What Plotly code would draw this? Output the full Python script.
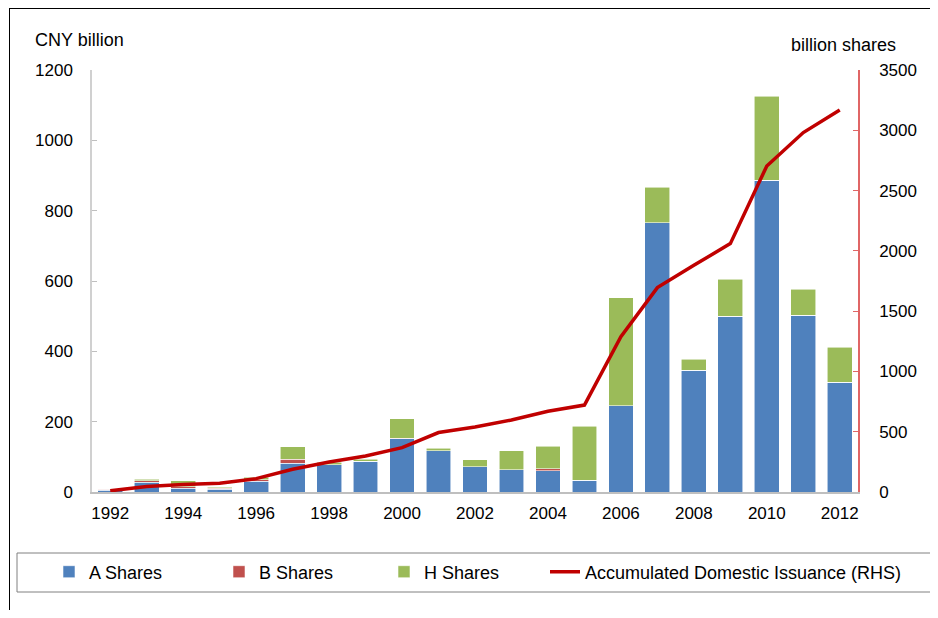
import plotly.graph_objects as go

years = list(range(1992, 2013))
a_shares = [5, 28, 11, 8, 30, 82, 78, 88, 151, 117, 72, 63, 61, 34, 245, 766, 346, 500, 886, 502, 312]
b_shares = [3, 4, 4, 3, 5, 11, 0, 0, 2, 0, 0, 0, 5, 0, 0, 0, 0, 0, 0, 0, 0]
h_shares = [0, 4, 17, 3, 7, 35, 6, 5, 56, 7, 20, 55, 64, 153, 308, 101, 31, 105, 239, 74, 100]
accum_issuance = [10, 45, 62, 72, 111, 188, 249, 298, 368, 493, 539, 597, 669, 721,
                  1289, 1695, 1880, 2060, 2704, 2981, 3168]
tick_years = list(range(1992, 2013, 2))

FONT = "Liberation Sans, Arial, sans-serif"
OFF = 8  # page body margin
W, H = 938 - 2 * OFF, 618 - 2 * OFF
L = 92 - OFF
T = 70 - OFF
R = W - (858 - OFF)
B = H - (492 - OFF)
pw, ph = W - L - R, H - T - B

def px(x):
    return (x - OFF - L) / pw

def py(y):
    return (H - B - (y - OFF)) / ph

fig = go.Figure()
edge = dict(color="rgba(255,255,255,0.7)", width=0.8)
fig.add_trace(go.Bar(x=years, y=a_shares, name="A Shares", legendwidth=125,
                     marker=dict(color="#4F81BD", line=edge)))
fig.add_trace(go.Bar(x=years, y=b_shares, name="B Shares", legendwidth=120,
                     marker=dict(color="#C0504D", line=edge)))
fig.add_trace(go.Bar(x=years, y=h_shares, name="H Shares", legendwidth=100,
                     marker=dict(color="#9BBB59", line=edge)))
fig.add_trace(go.Scatter(x=years, y=accum_issuance, name="Accumulated Domestic Issuance (RHS)",
                         mode="lines", yaxis="y2", legend="legend2",
                         line=dict(color="#C00000", width=3.5)))

fig.update_layout(
    width=W, height=H,
    margin=dict(l=L, r=R, t=T, b=B, autoexpand=False),
    paper_bgcolor="white", plot_bgcolor="white",
    barmode="stack", bargap=0.32,
    font=dict(family=FONT, size=17, color="#000000"),
    xaxis=dict(range=[1991.5, 2012.5], tickvals=tick_years, ticktext=[str(y) for y in tick_years],
               showline=True, linecolor="#BFBFBF", linewidth=1.5, ticks="", showgrid=False,
               zeroline=False, tickfont=dict(size=17), ticklabelstandoff=5),
    yaxis=dict(range=[0, 1200], dtick=200, showline=True, linecolor="#D0D0D0", linewidth=1.5,
               ticks="inside", ticklen=5, tickcolor="#BFBFBF", showgrid=False, zeroline=False,
               tickfont=dict(size=17), ticklabelstandoff=14),
    yaxis2=dict(range=[0, 3500], dtick=500, overlaying="y", side="right", showline=True,
                linecolor="#E06666", linewidth=1.5, ticks="inside", ticklen=5, tickcolor="#E06666",
                showgrid=False, zeroline=False, tickfont=dict(size=17), ticklabelstandoff=16),
    showlegend=True,
    legend=dict(orientation="h", x=px(49), xanchor="left", y=py(572), yanchor="middle",
                entrywidthmode="pixels", font=dict(size=18),
                bgcolor="rgba(0,0,0,0)", traceorder="normal"),
    legend2=dict(orientation="h", x=px(545), xanchor="left", y=py(572), yanchor="middle",
                 font=dict(size=18), bgcolor="rgba(0,0,0,0)"),
    shapes=[
        dict(type="rect", xref="paper", yref="paper", x0=px(17), x1=px(960), y0=py(553), y1=py(592),
             line=dict(color="#808080", width=1), fillcolor="rgba(0,0,0,0)", layer="below"),
        dict(type="line", xref="paper", yref="paper", x0=px(9), x1=px(960), y0=py(8.5), y1=py(8.5),
             line=dict(color="#000000", width=1)),
        dict(type="line", xref="paper", yref="paper", x0=px(9.5), x1=px(9.5), y0=py(8), y1=py(640),
             line=dict(color="#000000", width=1)),
    ],
    annotations=[
        dict(text="CNY billion", xref="paper", yref="paper", x=px(33), y=py(40), xanchor="left",
             yanchor="middle", showarrow=False, font=dict(size=18)),
        dict(text="billion shares", xref="paper", yref="paper", x=px(789), y=py(45), xanchor="left",
             yanchor="middle", showarrow=False, font=dict(size=18)),
    ],
)

fig.write_html("out.html")
